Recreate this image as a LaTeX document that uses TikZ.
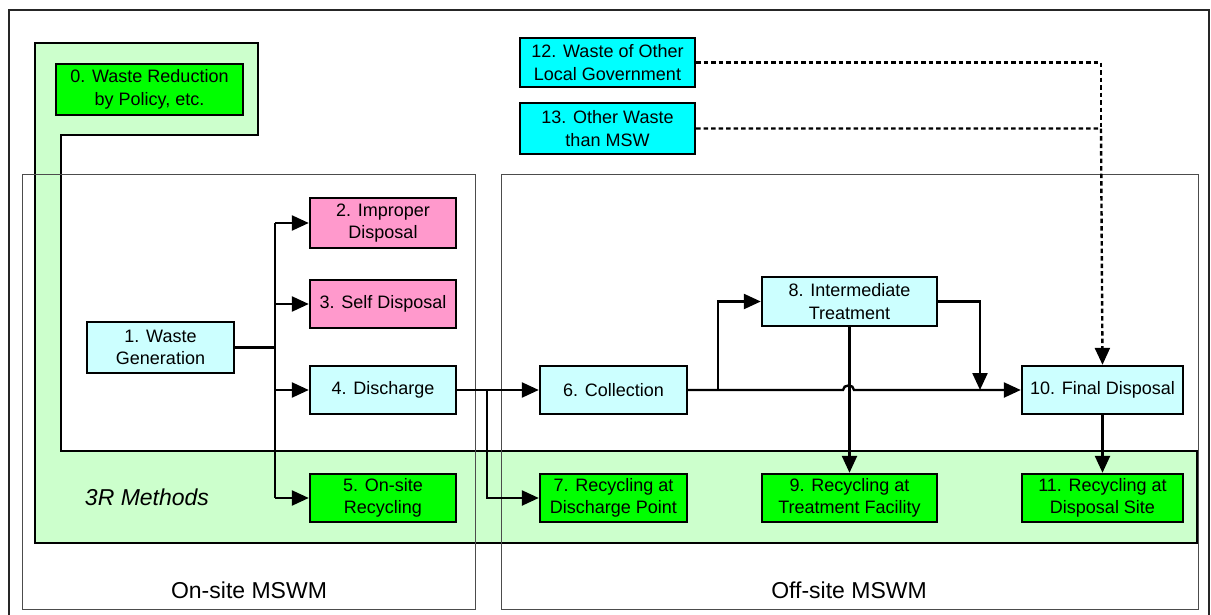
\documentclass[tikz,border=0pt]{standalone}
\usepackage{fontspec}
\setmainfont{Liberation Sans}
\usetikzlibrary{arrows.meta}
\definecolor{bgreen}{HTML}{00FF00}
\definecolor{lcyan}{HTML}{CCFFFF}
\definecolor{pinkc}{HTML}{FF99CC}
\definecolor{cyanc}{HTML}{00FFFF}
\definecolor{lgreen}{HTML}{CCFFCC}
\tikzset{
  boxn/.style={draw, line width=2.4pt, inner sep=0pt, align=center, font=\fontsize{18}{22.5}\selectfont},
  gn/.style={boxn, fill=bgreen},
  cn/.style={boxn, fill=lcyan},
  pn/.style={boxn, fill=pinkc},
  an/.style={boxn, fill=cyanc},
  arr/.style={line width=2.4pt, -{Triangle[length=17pt,width=15pt]}},
  ln/.style={line width=2.4pt},
  dotl/.style={line width=2.4pt, dash pattern=on 4.5pt off 3pt},
  grp/.style={draw=black!70, line width=1pt},
  lbl/.style={inner sep=0pt, font=\fontsize{23}{27}\selectfont}
}
\begin{document}
\begin{tikzpicture}[x=1pt,y=-1pt]
\useasboundingbox (0,0) rectangle (1211,615);
% outer frame
\draw[line width=1.5pt, black!85] (9,620) -- (9,10) -- (1209,10) -- (1209,620);
% green L band
\draw[fill=lgreen, line width=1.3pt] (35,43) -- (258,43) -- (258,135) -- (61,135) -- (61,451) -- (1197,451) -- (1197,543) -- (35,543) -- cycle;
% group boxes
\draw[grp] (22,175) rectangle (475,609);
\draw[grp] (501,175) rectangle (1198,609);
\node[lbl] (onl) at (249,590) {On-site MSWM};
\node[lbl] (offl) at (849,590) {Off-site MSWM};
\node[lbl, font=\fontsize{23}{27}\selectfont\itshape] (r3) at (147,497) {3R Methods};
% nodes
\node[gn, minimum width=187pt, minimum height=51pt] (n0) at (149.5,89.5) {0. Waste Reduction\\by Policy, etc.};
\node[cn, minimum width=147pt, minimum height=51pt] (n1) at (160.5,347.5) {1. Waste\\Generation};
\node[pn, minimum width=146pt, minimum height=50pt] (n2) at (383,223) {2. Improper\\Disposal};
\node[pn, minimum width=146pt, minimum height=48pt] (n3) at (383,304) {3. Self Disposal};
\node[cn, minimum width=146pt, minimum height=48pt] (n4) at (383,390) {4. Discharge};
\node[gn, minimum width=146pt, minimum height=48pt] (n5) at (383,498) {5. On-site\\Recycling};
\node[cn, minimum width=147pt, minimum height=48pt] (n6) at (613.5,390) {6. Collection};
\node[gn, minimum width=147pt, minimum height=48pt] (n7) at (613.5,498) {7. Recycling at\\Discharge Point};
\node[cn, minimum width=175pt, minimum height=49pt] (n8) at (849.5,301.5) {8. Intermediate\\Treatment};
\node[gn, minimum width=175pt, minimum height=48pt] (n9) at (849.5,498) {9. Recycling at\\Treatment Facility};
\node[cn, minimum width=161pt, minimum height=48pt] (n10) at (1102.5,390) {10. Final Disposal};
\node[gn, minimum width=161pt, minimum height=48pt] (n11) at (1102.5,498) {11. Recycling at\\Disposal Site};
\node[an, minimum width=175pt, minimum height=49pt] (n12) at (607.5,62.5) {12. Waste of Other\\Local Government};
\node[an, minimum width=175pt, minimum height=51pt] (n13) at (607.5,128.5) {13. Other Waste\\than MSW};
% coordinates
\coordinate (b1) at (275,347.5);
\coordinate (b1t) at (275,223);
\coordinate (b1b) at (275,498);
\coordinate (b4) at (487,390);
\coordinate (b6) at (718,390);
\coordinate (jl) at (843,390);
\coordinate (jr) at (854,390);
\coordinate (c8) at (980,301.5);
\coordinate (c8e) at (980,390);
\coordinate (d12) at (1101,62.5);
\coordinate (d13) at (1101,128.5);
% connectors from 1
\draw[ln] (n1.east) -- (b1);
\draw[ln] (b1t) -- (b1b);
\draw[arr] (b1t) -- (n2.west);
\draw[arr] (b1 |- n3.west) -- (n3.west);
\draw[arr] (b1 |- n4.west) -- (n4.west);
\draw[arr] (b1b) -- (n5.west);
% 4 -> 6, 4 -> 7
\draw[arr] (n4.east) -- (n6.west);
\draw[arr] (b4) -- (b4 |- n7.west) -- (n7.west);
% 6 -> 10 with jump, 6 -> 8
\draw[arr] (n6.east) -- (jl) .. controls (843,384) and (854,384) .. (jr) -- (n10.west);
\draw[arr] (b6) -- (b6 |- n8.west) -- (n8.west);
% 8 -> main line, 8 -> 9
\draw[arr] (n8.east) -- (c8) -- (c8e);
\draw[arr] (n8.south) -- (n9.north);
% 10 -> 11
\draw[arr] (n10.south) -- (n11.north);
% dotted
\draw[dotl] (n12.east) -- (d12) -- (d13);
\draw[dotl, -{Triangle[length=17pt,width=15pt]}] (n13.east) -- (d13) -- (n10.north);
\end{tikzpicture}
\end{document}
